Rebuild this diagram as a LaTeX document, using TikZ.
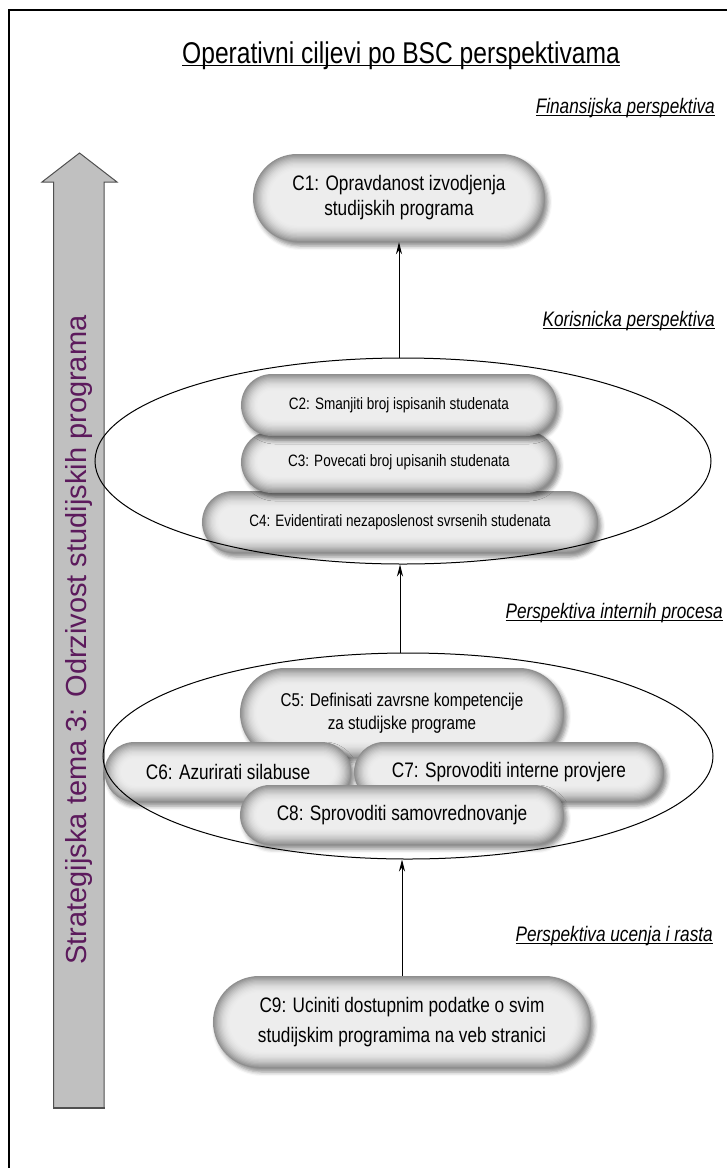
\documentclass[tikz,border=0pt]{standalone}
\usepackage{fontspec}
\setmainfont{Liberation Sans}
\newfontfamily\narrowsf[FakeStretch=0.82]{Liberation Sans}
\usetikzlibrary{shapes.misc,shapes.geometric,shadows.blur,arrows.meta}

\definecolor{themepurple}{RGB}{92,26,92}
\definecolor{arrowgray}{RGB}{192,192,192}
\definecolor{arrowedge}{RGB}{80,80,80}
\definecolor{pillrim}{gray}{0.56}

% text with a solid underline
\newcommand\ulbox[1]{\setbox0\hbox{#1}\rlap{\rule[-2.6pt]{\wd0}{1.1pt}}\box0}

% pill background: nested rounded rectangles, dark rim fading to a light centre
\newcommand\pillbg[4]{%
  \node[rounded rectangle, inner sep=0pt, minimum width=#3, minimum height=#4,
        fill=pillrim, blur shadow={shadow xshift=3pt, shadow yshift=-4pt,
        shadow blur radius=4pt, shadow opacity=45}] at (#1,#2) {};
  \foreach \k in {1,...,14}{
    \pgfmathsetmacro\ins{1.25*\k}
    \pgfmathsetmacro\lev{0.56+0.37*(1-(1-\k/14)^2)}
    \definecolor{pilltmp}{gray}{\lev}
    \node[rounded rectangle, inner sep=0pt, minimum width=#3-2*\ins,
          minimum height=#4-2*\ins, fill=pilltmp] at (#1,#2) {};
  }%
}

\tikzset{
  pilltext/.style={rounded rectangle, inner sep=0pt, align=center, text=black},
  persp/.style={anchor=base east, inner sep=0pt,
                font=\narrowsf\itshape\fontsize{21}{25}\selectfont},
  group/.style={ellipse, draw=black, line width=1pt, inner sep=0pt},
  link/.style={line width=0.9pt, -{Stealth[length=12pt,width=6pt]}},
}

\begin{document}
\begin{tikzpicture}[x=1pt,y=-1pt]
\useasboundingbox (0,0) rectangle (727,1168);

% page frame
\draw[line width=2pt] (9,1168) -- (9,10) -- (727,10);

% strategic theme arrow
\path[fill=arrowgray, draw=arrowedge, line width=1pt, line join=miter]
  (53.5,1108) -- (53.5,182) -- (42,182) -- (79.5,153) -- (117,182)
  -- (104,182) -- (104,1108) -- cycle;
\draw[line width=2.5pt, arrowedge] (53,1108) -- (104.5,1108);
\node[rotate=90, anchor=base, inner sep=0pt, text=themepurple,
      font=\fontsize{29}{34}\selectfont] (theme) at (86,640)
  {Strategijska tema 3: Odrzivost studijskih programa};

% title and perspective labels
\node[anchor=base, inner sep=0pt, font=\narrowsf\fontsize{30}{36}\selectfont]
  (title) at (401,63) {\ulbox{Operativni ciljevi po BSC perspektivama}};
\node[persp] (pfin) at (715,113) {\ulbox{Finansijska perspektiva}};
\node[persp] (pkor) at (715,326) {\ulbox{Korisnicka perspektiva}};
\node[persp] (pint) at (723,618) {\ulbox{Perspektiva internih procesa}};
\node[persp] (puce) at (713,941) {\ulbox{Perspektiva ucenja i rasta}};

% C1
\pillbg{399}{198}{292}{88}
\node[pilltext, minimum width=292, minimum height=88,
      font=\narrowsf\fontsize{21}{25}\selectfont] (c1) at (399,198)
  {C1: Opravdanost izvodjenja\\studijskih programa};

% customer perspective group
\pillbg{400}{522}{396}{62}
\node[pilltext, minimum width=396, minimum height=62,
      font=\narrowsf\fontsize{16.5}{20}\selectfont] (c4) at (400,522)
  {C4: Evidentirati nezaposlenost svrsenih studenata};
\pillbg{399}{462}{316}{62}
\node[pilltext, minimum width=316, minimum height=62,
      font=\narrowsf\fontsize{16.5}{20}\selectfont] (c3) at (399,462)
  {C3: Povecati broj upisanih studenata};
\pillbg{399}{405}{316}{62}
\node[pilltext, minimum width=316, minimum height=62,
      font=\narrowsf\fontsize{16.5}{20}\selectfont] (c2) at (399,405)
  {C2: Smanjiti broj ispisanih studenata};
\node[group, minimum width=616, minimum height=206] (e1) at (403,461) {};

% internal process group
\pillbg{402}{713}{324}{90}
\node[pilltext, minimum width=324, minimum height=90,
      font=\narrowsf\fontsize{18.5}{23}\selectfont] (c5) at (402,713)
  {C5: Definisati zavrsne kompetencije\\za studijske programe};
\pillbg{228}{772}{247}{60}
\node[pilltext, minimum width=247, minimum height=60,
      font=\narrowsf\fontsize{21}{25}\selectfont] (c6) at (228,772)
  {C6: Azurirati silabuse};
\pillbg{509}{772}{310}{60}
\node[pilltext, minimum width=310, minimum height=60,
      font=\narrowsf\fontsize{21}{25}\selectfont] (c7) at (509,772)
  {C7: Sprovoditi interne provjere};
\pillbg{402}{815}{324}{60}
\node[pilltext, minimum width=324, minimum height=60,
      font=\narrowsf\fontsize{21}{25}\selectfont] (c8) at (402,815)
  {C8: Sprovoditi samovrednovanje};
\node[group, minimum width=610, minimum height=206] (e2) at (408,756) {};

% learning and growth
\pillbg{402}{1022}{378}{92}
\node[pilltext, minimum width=378, minimum height=92,
      font=\narrowsf\fontsize{21}{30}\selectfont] (c9) at (402,1022)
  {C9: Uciniti dostupnim podatke o svim\\studijskim programima na veb stranici};

% cause-and-effect links
\draw[link] (c1.south |- e1.north) -- (c1.south);
\draw[link] (c4.south |- e2.north) -- (c4.south |- e1.south);
\draw[link] (c9.north) -- (c9.north |- e2.south);
\end{tikzpicture}
\end{document}
